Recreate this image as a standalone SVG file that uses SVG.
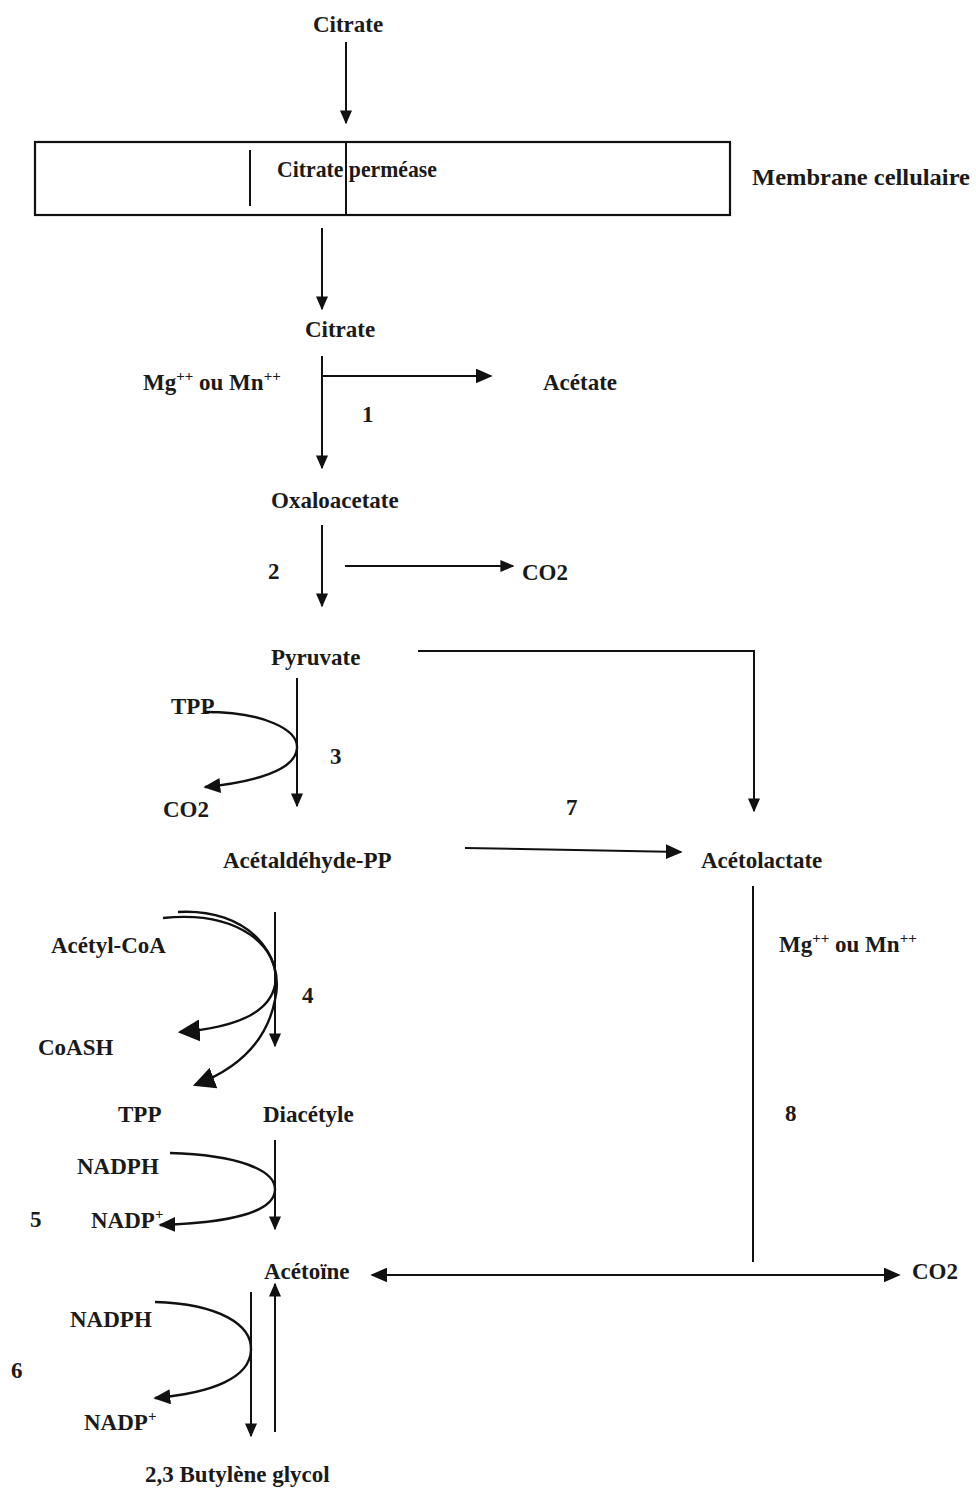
<svg xmlns="http://www.w3.org/2000/svg" width="976" height="1490" viewBox="0 0 976 1490">
<defs>
<style>
text{font-family:"Liberation Serif","Times New Roman",serif;font-weight:bold;font-size:23px;fill:#1a1a1a}
.sup{font-size:15px}
.ln{fill:none;stroke:#111;stroke-width:2}
.cv{fill:none;stroke:#111;stroke-width:2.4}
.box{fill:#fff;stroke:#111;stroke-width:2.2}
</style>
<marker id="ah" viewBox="0 0 10 10" refX="9" refY="5" markerWidth="14" markerHeight="12" markerUnits="userSpaceOnUse" orient="auto" preserveAspectRatio="none">
<path d="M0,0 L10,5 L0,10 Z" fill="#111"/>
</marker>
<marker id="ahm" viewBox="0 0 10 10" refX="9" refY="5" markerWidth="17" markerHeight="15" markerUnits="userSpaceOnUse" orient="auto" preserveAspectRatio="none">
<path d="M0,0 L10,5 L0,10 Z" fill="#111"/>
</marker>
<marker id="ahs" viewBox="0 0 10 10" refX="9" refY="5" markerWidth="17" markerHeight="15" markerUnits="userSpaceOnUse" orient="auto-start-reverse" preserveAspectRatio="none">
<path d="M0,0 L10,5 L0,10 Z" fill="#111"/>
</marker>
<marker id="ahb" viewBox="0 0 10 10" refX="9" refY="5" markerWidth="22" markerHeight="22" markerUnits="userSpaceOnUse" orient="auto">
<path d="M0,0 L10,5 L0,10 Z" fill="#111"/>
</marker>
</defs>

<g id="membrane">
<rect class="box" x="35" y="142" width="695" height="73"/>
<line class="ln" x1="250" y1="150" x2="250" y2="206"/>
<line class="ln" x1="346" y1="142" x2="346" y2="215"/>
<text x="277" y="177" textLength="160" lengthAdjust="spacingAndGlyphs">Citrate perméase</text>
<text x="752" y="185" textLength="218" lengthAdjust="spacingAndGlyphs">Membrane cellulaire</text>
</g>

<g id="citrate-ext"><text x="348" y="32" text-anchor="middle">Citrate</text></g>
<g id="citrate-int"><text x="340" y="337" text-anchor="middle">Citrate</text></g>
<g id="cofactor1"><text x="143" y="390">Mg<tspan class="sup" dy="-9">++</tspan><tspan dy="9"> ou Mn</tspan><tspan class="sup" dy="-9">++</tspan></text></g>
<g id="acetate"><text x="543" y="390">Acétate</text></g>
<g id="step1"><text x="362" y="422">1</text></g>
<g id="oxaloacetate"><text x="271" y="508">Oxaloacetate</text></g>
<g id="step2"><text x="268" y="579">2</text></g>
<g id="co2-a"><text x="522" y="580">CO2</text></g>
<g id="pyruvate"><text x="271" y="665">Pyruvate</text></g>
<g id="tpp-a"><text x="171" y="714">TPP</text></g>
<g id="co2-b"><text x="163" y="817">CO2</text></g>
<g id="step3"><text x="330" y="764">3</text></g>
<g id="step7"><text x="566" y="815">7</text></g>
<g id="acetaldehyde"><text x="223" y="868">Acétaldéhyde-PP</text></g>
<g id="acetolactate"><text x="701" y="868">Acétolactate</text></g>
<g id="cofactor8"><text x="779" y="952">Mg<tspan class="sup" dy="-9">++</tspan><tspan dy="9">  ou Mn</tspan><tspan class="sup" dy="-9">++</tspan></text></g>
<g id="step8"><text x="785" y="1121">8</text></g>
<g id="acetylcoa"><text x="51" y="953">Acétyl-CoA</text></g>
<g id="coash"><text x="38" y="1055">CoASH</text></g>
<g id="step4"><text x="302" y="1003">4</text></g>
<g id="tpp-b"><text x="118" y="1122">TPP</text></g>
<g id="diacetyle"><text x="263" y="1122">Diacétyle</text></g>
<g id="nadph5"><text x="77" y="1174">NADPH</text></g>
<g id="nadp5"><text x="91" y="1228">NADP<tspan class="sup" dy="-9">+</tspan></text></g>
<g id="step5"><text x="30" y="1227">5</text></g>
<g id="acetoine"><text x="264" y="1279">Acétoïne</text></g>
<g id="co2-c"><text x="912" y="1279">CO2</text></g>
<g id="nadph6"><text x="70" y="1327">NADPH</text></g>
<g id="nadp6"><text x="84" y="1430">NADP<tspan class="sup" dy="-9">+</tspan></text></g>
<g id="step6"><text x="11" y="1378">6</text></g>
<g id="butylene"><text x="145" y="1482">2,3 Butylène glycol</text></g>

<g id="connectors">
<line class="ln" x1="346" y1="42" x2="346" y2="123" marker-end="url(#ah)"/>
<line class="ln" x1="322" y1="228" x2="322" y2="309" marker-end="url(#ah)"/>
<line class="ln" x1="322" y1="356" x2="322" y2="468" marker-end="url(#ah)"/>
<line class="ln" x1="322" y1="376" x2="491" y2="376" marker-end="url(#ahm)"/>
<line class="ln" x1="322" y1="525" x2="322" y2="606" marker-end="url(#ah)"/>
<line class="ln" x1="345" y1="566" x2="513" y2="566" marker-end="url(#ah)"/>
<polyline class="ln" points="418,651 754,651 754,811" marker-end="url(#ah)"/>
<line class="ln" x1="297" y1="678" x2="297" y2="806" marker-end="url(#ah)"/>
<path class="cv" d="M205,712 C265,712 298,730 297,748 C296,770 255,782 205,787" marker-end="url(#ahm)"/>
<line class="ln" x1="465" y1="848" x2="681" y2="852" marker-end="url(#ahm)"/>
<line class="ln" x1="753" y1="886" x2="753" y2="1262"/>
<line class="ln" x1="275" y1="912" x2="275" y2="1046" marker-end="url(#ah)"/>
<path class="cv" d="M163,918 C240,910 281,948 275,985 C269,1015 232,1028 180,1032" marker-end="url(#ahb)"/>
<path class="cv" d="M178,912 C248,908 286,955 275,1000 C266,1045 235,1070 195,1085" marker-end="url(#ahb)"/>
<line class="ln" x1="275" y1="1140" x2="275" y2="1229" marker-end="url(#ah)"/>
<path class="cv" d="M170,1153 C238,1155 276,1170 275,1190 C274,1212 230,1223 160,1225" marker-end="url(#ahm)"/>
<line class="ln" x1="372" y1="1275" x2="899" y2="1275" marker-start="url(#ahs)" marker-end="url(#ahs)"/>
<line class="ln" x1="251" y1="1292" x2="251" y2="1436" marker-end="url(#ah)"/>
<line class="ln" x1="275" y1="1432" x2="275" y2="1284" marker-end="url(#ah)"/>
<path class="cv" d="M155,1302 C220,1304 252,1325 251,1350 C250,1378 212,1393 155,1398" marker-end="url(#ahm)"/>
</g>
</svg>
